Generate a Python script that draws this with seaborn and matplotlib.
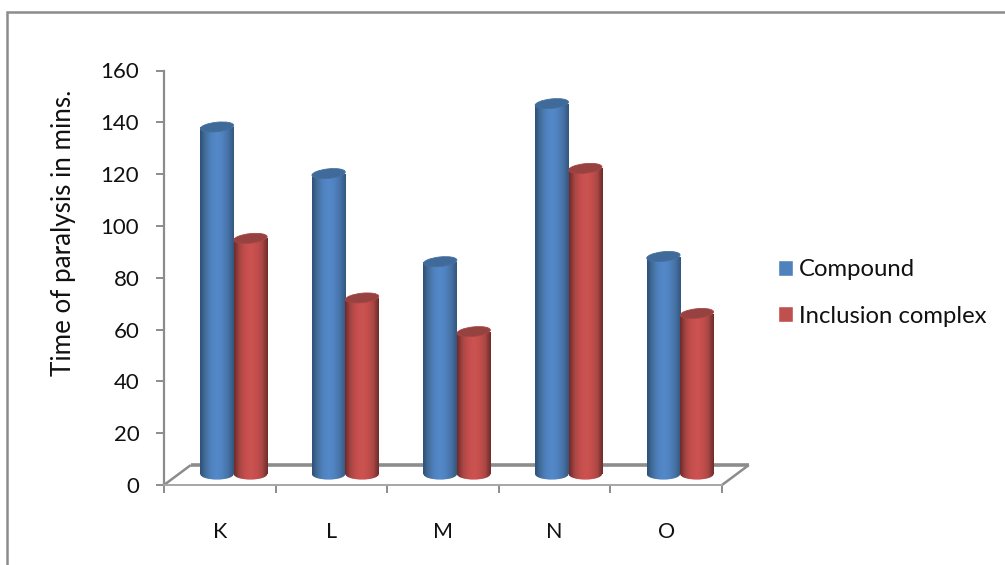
import numpy as np
import pandas as pd
import matplotlib
matplotlib.use("Agg")
import matplotlib.pyplot as plt
import seaborn as sns
from matplotlib.colors import LinearSegmentedColormap
from matplotlib.lines import Line2D
from matplotlib.patches import Ellipse, Rectangle
from matplotlib.transforms import Affine2D, IdentityTransform

# Paralysis time per sample
samples = ["K", "L", "M", "N", "O"]
compound = [134, 116, 82, 143, 84]
inclusion_complex = [91, 68, 55, 118, 62]
series_names = ["Compound", "Inclusion complex"]
y_ticks = [0, 20, 40, 60, 80, 100, 120, 140, 160]

GREY = "#8c8c8c"
BLUE = "#4f81bd"
RED = "#c0504d"
BLUE_RAMP = ["#2f5178", "#44719f", "#4f82c0", "#5588c8", "#4f82c0", "#4672a6", "#34587f"]
RED_RAMP = ["#6f2c2a", "#a84644", "#c64f4d", "#cb5351", "#c64f4d", "#ab4846", "#6f2c2a"]
BLUE_CAP = "#3f6a9a"
RED_CAP = "#964240"

sns.set_theme(style="white")
plt.rcParams["font.family"] = ["Lato", "DejaVu Sans"]

W, H = 1005, 565
fig = plt.figure(figsize=(W / 100, H / 100), dpi=100, facecolor="white")
ax = fig.add_axes([164 / W, 1 - 485 / H, 558 / W, 414.5 / H])
ax.patch.set_alpha(0)

frame = pd.DataFrame({
    "sample": samples * 2,
    "series": [series_names[0]] * 5 + [series_names[1]] * 5,
    "minutes": compound + inclusion_complex,
})

# Column bases sit on the raised floor of the 3-D plot
FLOOR_LIFT = 4.2
sns.barplot(data=frame, x="sample", y="minutes", hue="series",
            palette=[BLUE, RED], hue_order=series_names, order=samples,
            width=0.6, gap=0, dodge=True, bottom=FLOOR_LIFT, legend=False,
            errorbar=None, saturation=1, ax=ax, zorder=3)

ax.set_xlim(-0.5, 4.5)
ax.set_ylim(0, 160)

DEPTH_X = 0.125
bars = list(ax.patches)
for i, bar in enumerate(bars):
    is_first = i < len(samples)
    ramp, cap = (BLUE_RAMP, BLUE_CAP) if is_first else (RED_RAMP, RED_CAP)
    bar.set_x(bar.get_x() + DEPTH_X)
    bar.set_linewidth(0)
    x0, x1 = bar.get_x(), bar.get_x() + bar.get_width()
    y0, y1 = bar.get_y(), bar.get_y() + bar.get_height()
    (px0, py0), (px1, py1) = ax.transData.transform([(x0, y0), (x1, y1)])
    width_px = px1 - px0
    cmap = LinearSegmentedColormap.from_list("shade", ramp)
    grad = np.linspace(0, 1, 64)[None, :]
    z = 4 if is_first else 5

    # Rounded lower end of the column
    base = Ellipse(((px0 + px1) / 2, py0), width_px, 11,
                   transform=IdentityTransform(), facecolor="none", edgecolor="none")
    ax.add_patch(base)
    im_base = ax.imshow(grad, extent=[x0, x1, y0 - 2.5, y0 + 2.5], cmap=cmap,
                        aspect="auto", zorder=z, interpolation="bilinear")
    im_base.set_clip_path(base)

    # Cylinder shading along the column body
    im = ax.imshow(grad, extent=[x0, x1, y0, y1], cmap=cmap,
                   aspect="auto", zorder=z, interpolation="bilinear")
    im.set_clip_path(bar)

    # Sloped top face
    top = Ellipse((0, 0), width_px, 9.5, angle=6, facecolor=cap, edgecolor=ramp[1], linewidth=0.6,
                  transform=Affine2D().translate((px0 + px1) / 2, py1), zorder=z + 0.5)
    ax.add_patch(top)

ax.set_xlim(-0.5, 4.5)
ax.set_ylim(0, 160)

# Axes and ticks
sns.despine(ax=ax, top=True, right=True)
for side in ("left", "bottom"):
    ax.spines[side].set_color(GREY)
ax.spines["left"].set_linewidth(1.6)
ax.spines["bottom"].set_linewidth(1.4)
ax.spines["bottom"].set_color("#a6a6a6")
ax.set_yticks(y_ticks)
ax.set_xticks(range(len(samples)))
ax.set_xticklabels(samples)
ax.set_xticks(np.arange(-0.5, 5, 1), minor=True)
ax.tick_params(axis="y", length=5.8, width=1.4, color=GREY, labelsize=16, pad=12, labelcolor="#111111", left=True)
ax.tick_params(axis="x", which="major", length=0, pad=27, labelsize=15.5, labelcolor="#111111")
ax.tick_params(axis="x", which="minor", length=5.8, width=1.4, color=GREY, bottom=True)
ax.set_xlabel("")
ax.set_ylabel("Time of paralysis in mins.", fontsize=18.7, color="#111111")
ax.yaxis.set_label_coords(76 / W, 1 - 233 / H, transform=fig.transFigure)

# Floor of the 3-D plot
dx, dy = 0.24, 7.7
floor = dict(color=GREY, clip_on=False, solid_capstyle="butt")
ax.add_line(Line2D([-0.5, -0.5 + dx], [0, dy], lw=1.8, zorder=2, **floor))
ax.add_line(Line2D([4.5, 4.5 + dx], [0, dy], lw=1.8, zorder=2, **floor))
ax.add_line(Line2D([-0.5 + dx, 4.5 + dx], [dy, dy], lw=2.6, zorder=2, **floor))

# Legend on the right of the plot
handles = [Rectangle((0, 0), 1, 1, facecolor=BLUE), Rectangle((0, 0), 1, 1, facecolor=RED)]
fig.legend(handles, series_names, loc="center left", bbox_to_anchor=(778 / W, 1 - 293 / H),
           frameon=False, fontsize=17.2, handlelength=0.63, handleheight=0.63,
           handletextpad=0.25, labelspacing=1.05, labelcolor="#111111", borderpad=0, borderaxespad=0)

# Outer chart border, open past the right and lower edges
fig.add_artist(Rectangle((7 / W, -0.1), 1.2, 1.1 - 12 / H, transform=fig.transFigure,
                         fill=False, edgecolor=GREY, linewidth=1.8))

fig.savefig("out.png", dpi=100)
